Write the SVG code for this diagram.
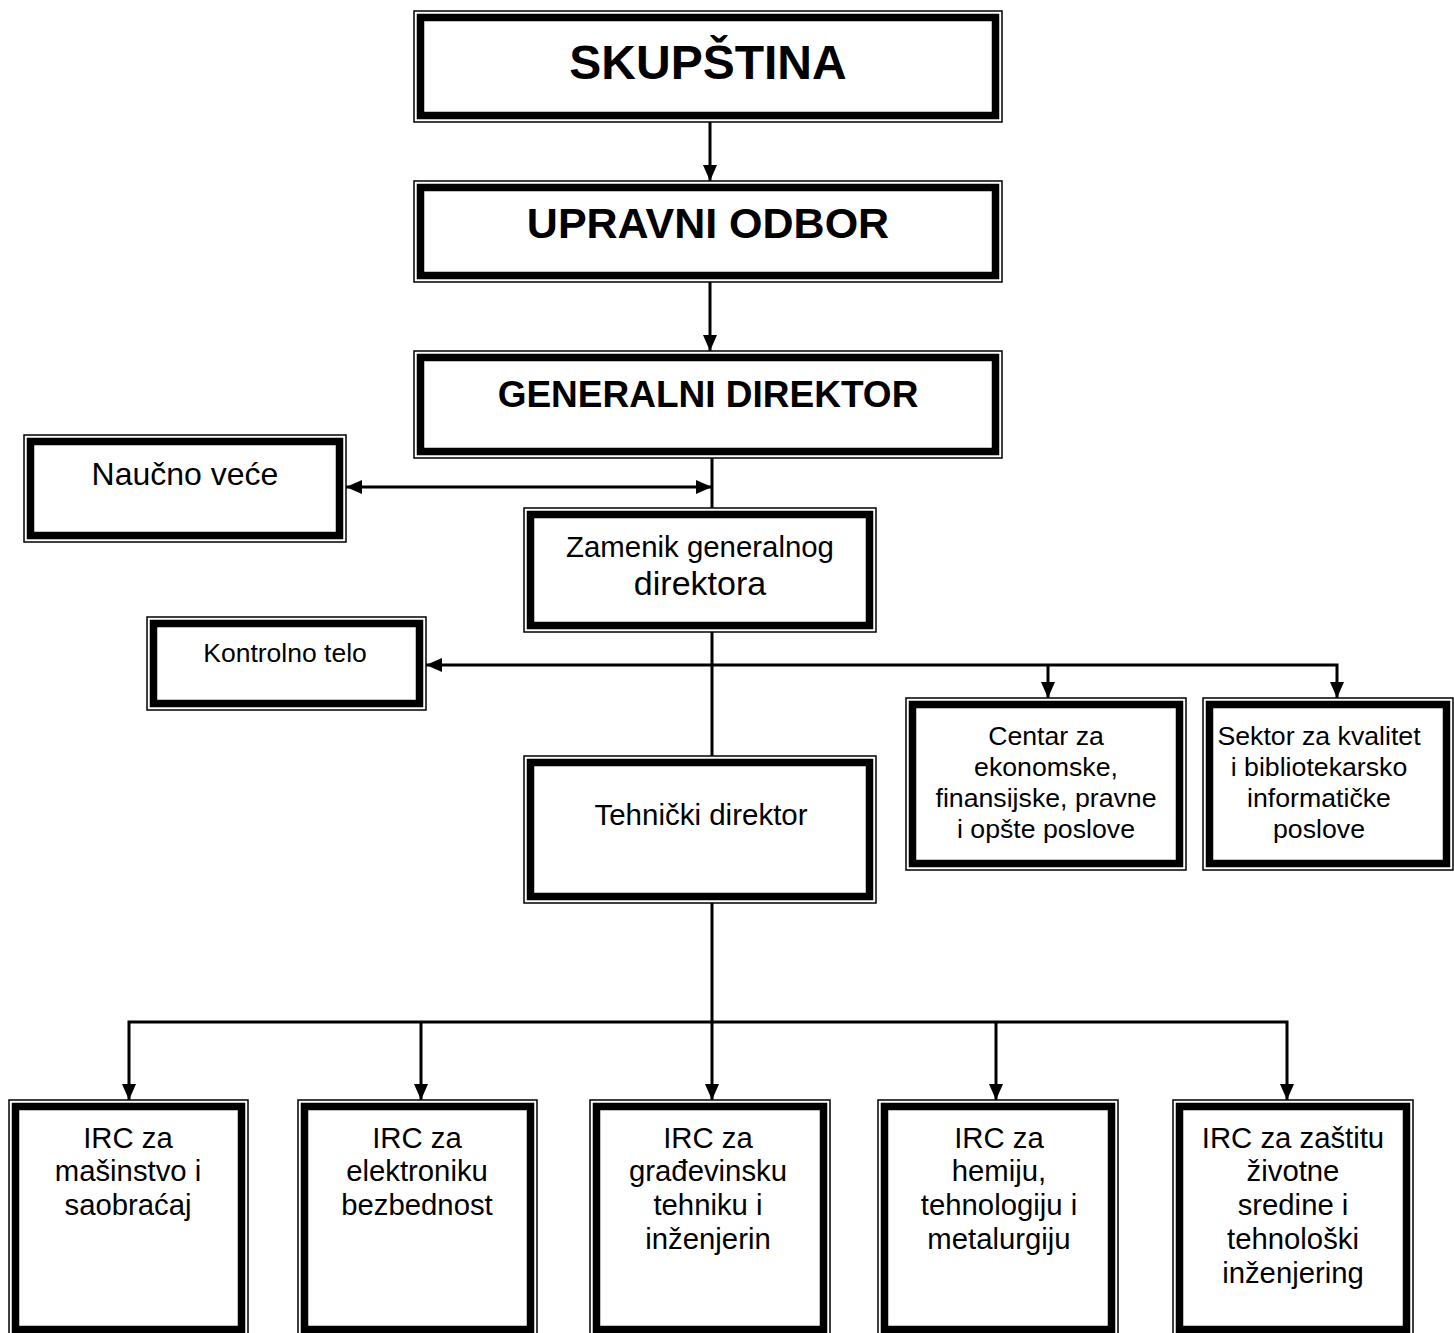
<svg xmlns="http://www.w3.org/2000/svg" width="1454" height="1333" viewBox="0 0 1454 1333">
<style>
.o{fill:#fff;stroke:#000;stroke-width:1.5}
.i{fill:none;stroke:#000;stroke-width:7.5}
text{font-family:"Liberation Sans",Arial,sans-serif;fill:#000;text-anchor:middle}
.b{font-weight:bold}
.c{fill:none;stroke:#000;stroke-width:3}
</style>
<defs>
<marker id="ah" markerUnits="userSpaceOnUse" markerWidth="16" markerHeight="16" viewBox="0 0 16 16" refX="16" refY="8" orient="auto-start-reverse">
<path d="M0,1 L16,8 L0,15 z" fill="#000"/>
</marker>
</defs>
<rect width="1454" height="1333" fill="#fff"/>
<g id="connectors">
<line class="c" x1="710" y1="122" x2="710" y2="181" marker-end="url(#ah)"/>
<line class="c" x1="710" y1="282" x2="710" y2="351" marker-end="url(#ah)"/>
<line class="c" x1="712" y1="458" x2="712" y2="508"/>
<line class="c" x1="346" y1="487" x2="712" y2="487" marker-start="url(#ah)" marker-end="url(#ah)"/>
<line class="c" x1="712" y1="632" x2="712" y2="756"/>
<line class="c" x1="712" y1="665" x2="426" y2="665" marker-end="url(#ah)"/>
<polyline class="c" points="712,665 1337,665 1337,698" marker-end="url(#ah)"/>
<line class="c" x1="1048" y1="665" x2="1048" y2="698" marker-end="url(#ah)"/>
<line class="c" x1="712" y1="903" x2="712" y2="1100" marker-end="url(#ah)"/>
<polyline class="c" points="129,1100 129,1022 1287,1022 1287,1100" marker-start="url(#ah)" marker-end="url(#ah)"/>
<line class="c" x1="421" y1="1022" x2="421" y2="1100" marker-end="url(#ah)"/>
<line class="c" x1="996" y1="1022" x2="996" y2="1100" marker-end="url(#ah)"/>
</g>
<g id="skupstina">
<rect class="o" x="414" y="11" width="588" height="111"/>
<rect class="i" x="420.5" y="17.5" width="575" height="98"/>
<text class="b" x="708" y="79" font-size="48">SKUPŠTINA</text>
</g>
<g id="upravni-odbor">
<rect class="o" x="414" y="181" width="588" height="101"/>
<rect class="i" x="420.5" y="187.5" width="575" height="88"/>
<text class="b" x="708" y="238" font-size="43">UPRAVNI ODBOR</text>
</g>
<g id="generalni-direktor">
<rect class="o" x="414" y="351" width="588" height="107"/>
<rect class="i" x="420.5" y="357.5" width="575" height="94"/>
<text class="b" x="708" y="407" font-size="37">GENERALNI DIREKTOR</text>
</g>
<g id="naucno-vece">
<rect class="o" x="24" y="435" width="322" height="107"/>
<rect class="i" x="30.5" y="441.5" width="309" height="94"/>
<text x="185" y="485" font-size="32">Naučno veće</text>
</g>
<g id="zamenik">
<rect class="o" x="524" y="508" width="352" height="124"/>
<rect class="i" x="530.5" y="514.5" width="339" height="111"/>
<text x="700" y="557" font-size="29.4">Zamenik generalnog</text>
<text x="700" y="595" font-size="34">direktora</text>
</g>
<g id="kontrolno-telo">
<rect class="o" x="147" y="617" width="279" height="93"/>
<rect class="i" x="153.5" y="623.5" width="266" height="80"/>
<text x="285" y="662" font-size="26.5">Kontrolno telo</text>
</g>
<g id="tehnicki-direktor">
<rect class="o" x="524" y="756" width="352" height="147"/>
<rect class="i" x="530.5" y="762.5" width="339" height="134"/>
<text x="701" y="825" font-size="29.5">Tehnički direktor</text>
</g>
<g id="centar">
<rect class="o" x="906" y="698" width="280" height="172"/>
<rect class="i" x="912.5" y="704.5" width="267" height="159"/>
<text x="1046" y="745" font-size="26.7">Centar za</text>
<text x="1046" y="776" font-size="26.7">ekonomske,</text>
<text x="1046" y="807" font-size="26.7">finansijske, pravne</text>
<text x="1046" y="838" font-size="26.7">i opšte poslove</text>
</g>
<g id="sektor">
<rect class="o" x="1203" y="698" width="250" height="172"/>
<rect class="i" x="1209.5" y="704.5" width="237" height="159"/>
<text x="1319" y="745" font-size="26.7">Sektor za kvalitet</text>
<text x="1319" y="776" font-size="26.7">i bibliotekarsko</text>
<text x="1319" y="807" font-size="26.7">informatičke</text>
<text x="1319" y="838" font-size="26.7">poslove</text>
</g>
<g id="irc-masinstvo">
<rect class="o" x="9" y="1100" width="239" height="236"/>
<rect class="i" x="15.5" y="1106.5" width="226" height="223"/>
<text x="128" y="1148" font-size="29.3">IRC za</text>
<text x="128" y="1181" font-size="29.3">mašinstvo i</text>
<text x="128" y="1215" font-size="29.3">saobraćaj</text>
</g>
<g id="irc-elektronika">
<rect class="o" x="298" y="1100" width="239" height="236"/>
<rect class="i" x="304.5" y="1106.5" width="226" height="223"/>
<text x="417" y="1148" font-size="29.3">IRC za</text>
<text x="417" y="1181" font-size="29.3">elektroniku</text>
<text x="417" y="1215" font-size="29.3">bezbednost</text>
</g>
<g id="irc-gradjevina">
<rect class="o" x="590" y="1100" width="240" height="236"/>
<rect class="i" x="596.5" y="1106.5" width="227" height="223"/>
<text x="708" y="1148" font-size="29.3">IRC za</text>
<text x="708" y="1181" font-size="29.3">građevinsku</text>
<text x="708" y="1215" font-size="29.3">tehniku i</text>
<text x="708" y="1249" font-size="29.3">inženjerin</text>
</g>
<g id="irc-hemija">
<rect class="o" x="878" y="1100" width="240" height="236"/>
<rect class="i" x="884.5" y="1106.5" width="227" height="223"/>
<text x="999" y="1148" font-size="29.3">IRC za</text>
<text x="999" y="1181" font-size="29.3">hemiju,</text>
<text x="999" y="1215" font-size="29.3">tehnologiju i</text>
<text x="999" y="1249" font-size="29.3">metalurgiju</text>
</g>
<g id="irc-zastita">
<rect class="o" x="1173" y="1100" width="240" height="236"/>
<rect class="i" x="1179.5" y="1106.5" width="227" height="223"/>
<text x="1293" y="1148" font-size="29.3">IRC za zaštitu</text>
<text x="1293" y="1181" font-size="29.3">životne</text>
<text x="1293" y="1215" font-size="29.3">sredine i</text>
<text x="1293" y="1249" font-size="29.3">tehnološki</text>
<text x="1293" y="1283" font-size="29.3">inženjering</text>
</g>
</svg>
